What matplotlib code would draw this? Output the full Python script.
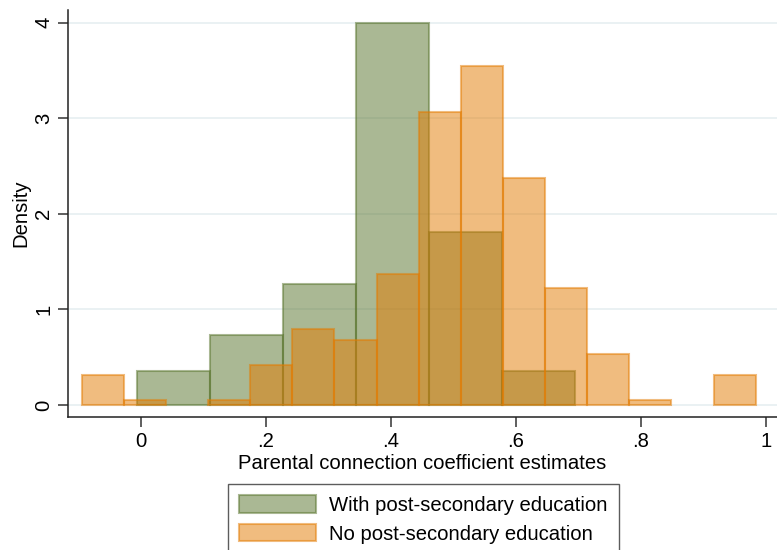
import numpy as np
import matplotlib
matplotlib.use("Agg")
import matplotlib.pyplot as plt

plt.rcParams['font.family'] = ['Liberation Sans', 'DejaVu Sans']

# histogram bins (density scale)
green_start = -0.007
green_width = 0.1168
green_heights = [0.36, 0.73, 1.27, 4.0, 1.81, 0.36]

orange_start = -0.095
orange_width = 0.0674
orange_heights = [0.31, 0.05, 0, 0.05, 0.42, 0.79, 0.68, 1.37,
                  3.07, 3.55, 2.38, 1.22, 0.53, 0.05, 0, 0.31]

x_ticks = [0, 0.2, 0.4, 0.6, 0.8, 1]
x_ticklabels = ["0", ".2", ".4", ".6", ".8", "1"]
y_ticks = [0, 1, 2, 3, 4]

labels = ["With post-secondary education", "No post-secondary education"]

green_col = "#57732b"
orange_col = "#e37b00"
fs = 14.6

fig = plt.figure(figsize=(7.77, 5.5), dpi=100)
ax = fig.add_axes([68 / 777, 1 - 417 / 550, 1 - 68 / 777, 407 / 550])


def draw_hist(start, width, heights, col, lab, z):
    h = np.array(heights, dtype=float)
    left = start + width * np.arange(len(h))
    keep = h > 0  # empty bins have no outline
    ax.bar(left[keep], h[keep], width=width, align='edge',
           color=col, edgecolor=col, alpha=0.5, linewidth=1.5,
           label=lab, zorder=z)


draw_hist(green_start, green_width, green_heights, green_col, labels[0], 2)
draw_hist(orange_start, orange_width, orange_heights, orange_col, labels[1], 3)

ax.set_xlim(-0.1168, 1.0176)
ax.set_ylim(-0.1256, 4.133)

ax.set_xticks(x_ticks)
ax.set_xticklabels(x_ticklabels)
ax.set_yticks(y_ticks)
ax.set_yticklabels([str(v) for v in y_ticks], rotation=90, va='center')

ax.tick_params(axis='both', labelsize=fs, length=7, width=1.1,
               color='#333333', direction='out')
ax.tick_params(axis='y', pad=3.5)
ax.tick_params(axis='x', pad=4)

ax.grid(axis='y', color='#e8f0f2', linewidth=1.3, zorder=0)
ax.set_axisbelow(True)

for s in ['top', 'right']:
    ax.spines[s].set_visible(False)
for s in ['left', 'bottom']:
    ax.spines[s].set_color('#222222')
    ax.spines[s].set_linewidth(1.1)

ax.set_xlabel("Parental connection coefficient estimates", fontsize=fs,
              labelpad=2)
ax.set_ylabel("Density", fontsize=fs, va='center')
ax.yaxis.set_label_coords(-47 / 709, 0.5)

leg = fig.legend(loc='upper center', bbox_to_anchor=(423.5 / 777, 1 - 484 / 550),
                 ncol=1, fontsize=fs, frameon=True, fancybox=False,
                 handlelength=3.8, handleheight=0.95, handletextpad=0.65,
                 labelspacing=0.45, borderpad=0.55, borderaxespad=0)
leg.get_frame().set_edgecolor('#333333')
leg.get_frame().set_linewidth(1.0)

fig.savefig("out.png", dpi=100)
